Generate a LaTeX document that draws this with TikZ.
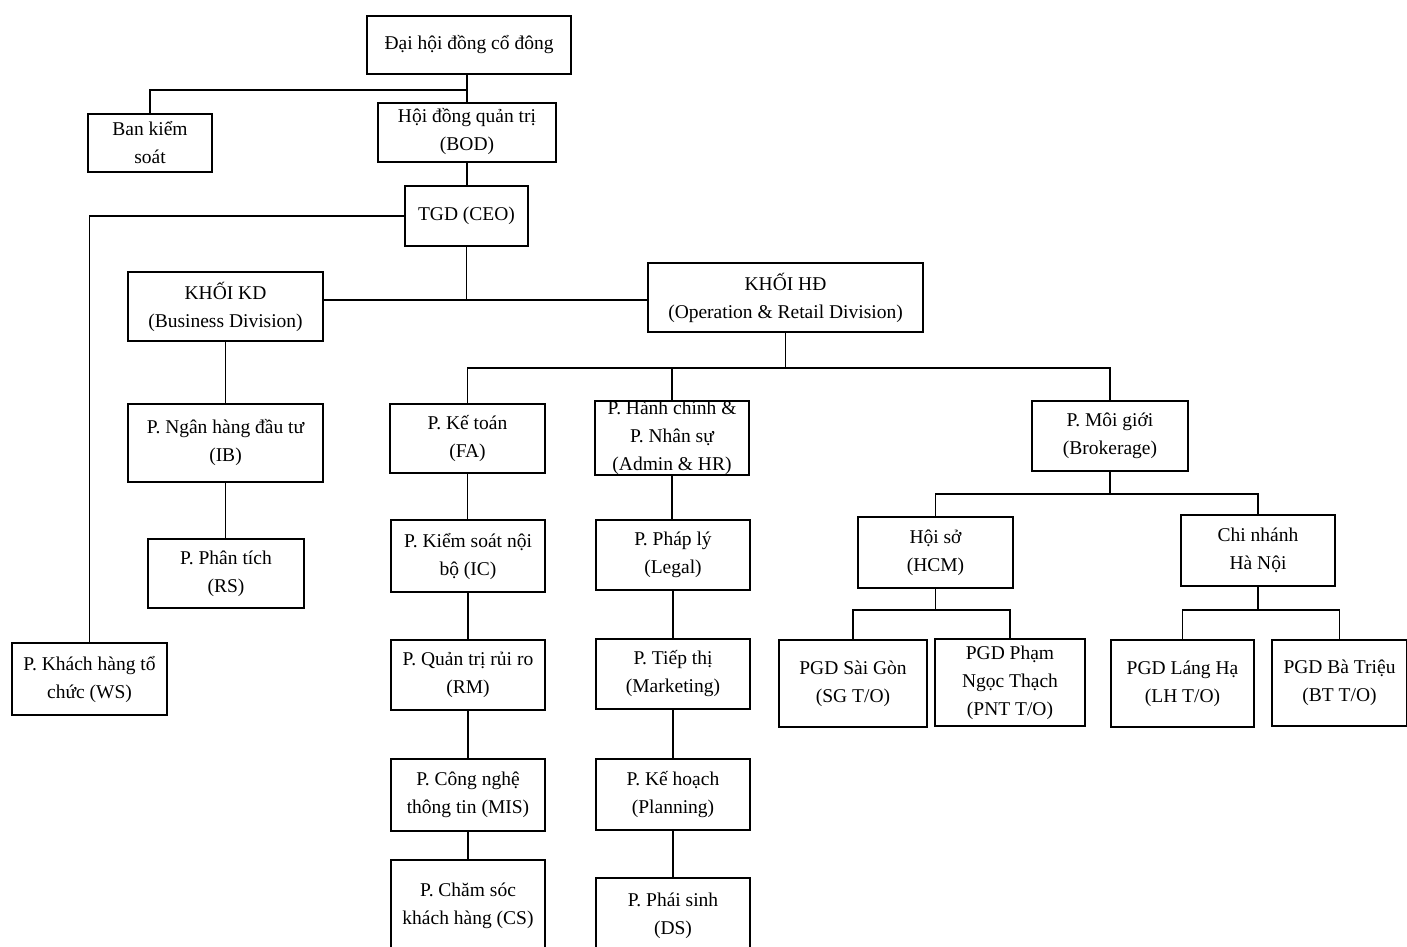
\documentclass[tikz,border=0pt]{standalone}
\usepackage{fontspec}
\setmainfont{Liberation Serif}
\usepackage{tikz}

\begin{document}
\begin{tikzpicture}[x=1pt,y=-1pt,
  box/.style={draw,line width=2pt,align=center,inner sep=0pt,font=\fontsize{19.5}{28}\selectfont},
  link/.style={line width=1.5pt}]
\clip (0,0) rectangle (1407,946);
\fill[white] (0,0) rectangle (1407,946);

% top
\node[box,minimum width=204,minimum height=58] (dhcd) at (469,45) {Đại hội đồng cổ đông};
\node[box,minimum width=124,minimum height=58] (bks) at (150,143) {Ban kiểm\\soát};
\node[box,minimum width=178,minimum height=59] (hdqt) at (467,132) {Hội đồng quản trị\\(BOD)};
\node[box,minimum width=123,minimum height=60] (ceo) at (466.5,216) {TGD (CEO)};

% khoi KD
\node[box,minimum width=195,minimum height=69] (kd) at (225.5,306.5) {KHỐI KD\\(Business Division)};
\node[box,minimum width=195,minimum height=78] (ib) at (225.5,443) {P. Ngân hàng đầu tư\\(IB)};
\node[box,minimum width=156,minimum height=69] (rs) at (226,573.5) {P. Phân tích\\(RS)};
\node[box,minimum width=155,minimum height=72] (ws) at (89.5,679) {P. Khách hàng tổ\\chức (WS)};

% khoi HD
\node[box,minimum width=275,minimum height=69] (hd) at (785.5,297.5) {KHỐI HĐ\\(Operation \& Retail Division)};
\node[box,minimum width=155,minimum height=69] (fa) at (467.5,438.5) {P. Kế toán\\(FA)};
\node[box,minimum width=154,minimum height=72] (adm) at (672,438) {P. Hành chính \&\\P. Nhân sự\\(Admin \& HR)};
\node[box,minimum width=156,minimum height=70] (brk) at (1110,436) {P. Môi giới\\(Brokerage)};
\node[box,minimum width=154,minimum height=72] (ic) at (468,556) {P. Kiểm soát nội\\bộ (IC)};
\node[box,minimum width=154,minimum height=70] (leg) at (673,555) {P. Pháp lý\\(Legal)};
\node[box,minimum width=154,minimum height=70] (rm) at (468,675) {P. Quản trị rủi ro\\(RM)};
\node[box,minimum width=154,minimum height=70] (mkt) at (673,674) {P. Tiếp thị\\(Marketing)};
\node[box,minimum width=154,minimum height=72] (mis) at (468,795) {P. Công nghệ\\thông tin (MIS)};
\node[box,minimum width=154,minimum height=71] (pln) at (673,794.5) {P. Kế hoạch\\(Planning)};
\node[box,minimum width=154,minimum height=92] (cs) at (468,906) {P. Chăm sóc\\khách hàng (CS)};
\node[box,minimum width=154,minimum height=76] (ds) at (673,916) {P. Phái sinh\\(DS)};

% moi gioi
\node[box,minimum width=155,minimum height=71] (hcm) at (935.5,552.5) {Hội sở\\(HCM)};
\node[box,minimum width=154,minimum height=71] (hn) at (1258,550.5) {Chi nhánh\\Hà Nội};
\node[box,minimum width=148,minimum height=87] (sg) at (853,683.5) {PGD Sài Gòn\\(SG T/O)};
\node[box,minimum width=150,minimum height=87] (pnt) at (1010,682.5) {PGD Phạm\\Ngọc Thạch\\(PNT T/O)};
\node[box,minimum width=143,minimum height=87] (lh) at (1182.5,683.5) {PGD Láng Hạ\\(LH T/O)};
\node[box,minimum width=135,minimum height=86] (bt) at (1339.5,683) {PGD Bà Triệu\\(BT T/O)};

% lines
\draw[link] (hdqt.north |- dhcd.south) -- (hdqt.north);
\draw[link] (bks.north) |- (hdqt.north |- 0,90);
\draw[link] (hdqt.south) -- (hdqt.south |- ceo.north);
\draw[link] (ceo.west) -| (ws.north);
\draw[link] (ceo.south) -- (ceo.south |- 0,300);
\draw[link] (kd.east |- 0,300) -- (hd.west |- 0,300);
\draw[link] (kd.south) -- (kd.south |- ib.north);
\draw[link] (ib.south) -- (ib.south |- rs.north);
\draw[link] (hd.south) -- (hd.south |- 0,368);
\draw[link] (fa.north) |- (brk.north |- 0,368) -- (brk.north);
\draw[link] (adm.north) -- (adm.north |- 0,368);
\foreach \a/\b in {fa/ic,ic/rm,rm/mis,mis/cs,adm/leg,leg/mkt,mkt/pln,pln/ds}
  \draw[link] (\a.south) -- (\a.south |- \b.north);
\draw[link] (brk.south) -- (brk.south |- 0,494);
\draw[link] (hcm.north) |- (hn.north |- 0,494) -- (hn.north);
\draw[link] (hcm.south) -- (hcm.south |- 0,610);
\draw[link] (sg.north) |- (pnt.north |- 0,610) -- (pnt.north);
\draw[link] (hn.south) -- (hn.south |- 0,610);
\draw[link] (lh.north) |- (bt.north |- 0,610) -- (bt.north);
\end{tikzpicture}
\end{document}
